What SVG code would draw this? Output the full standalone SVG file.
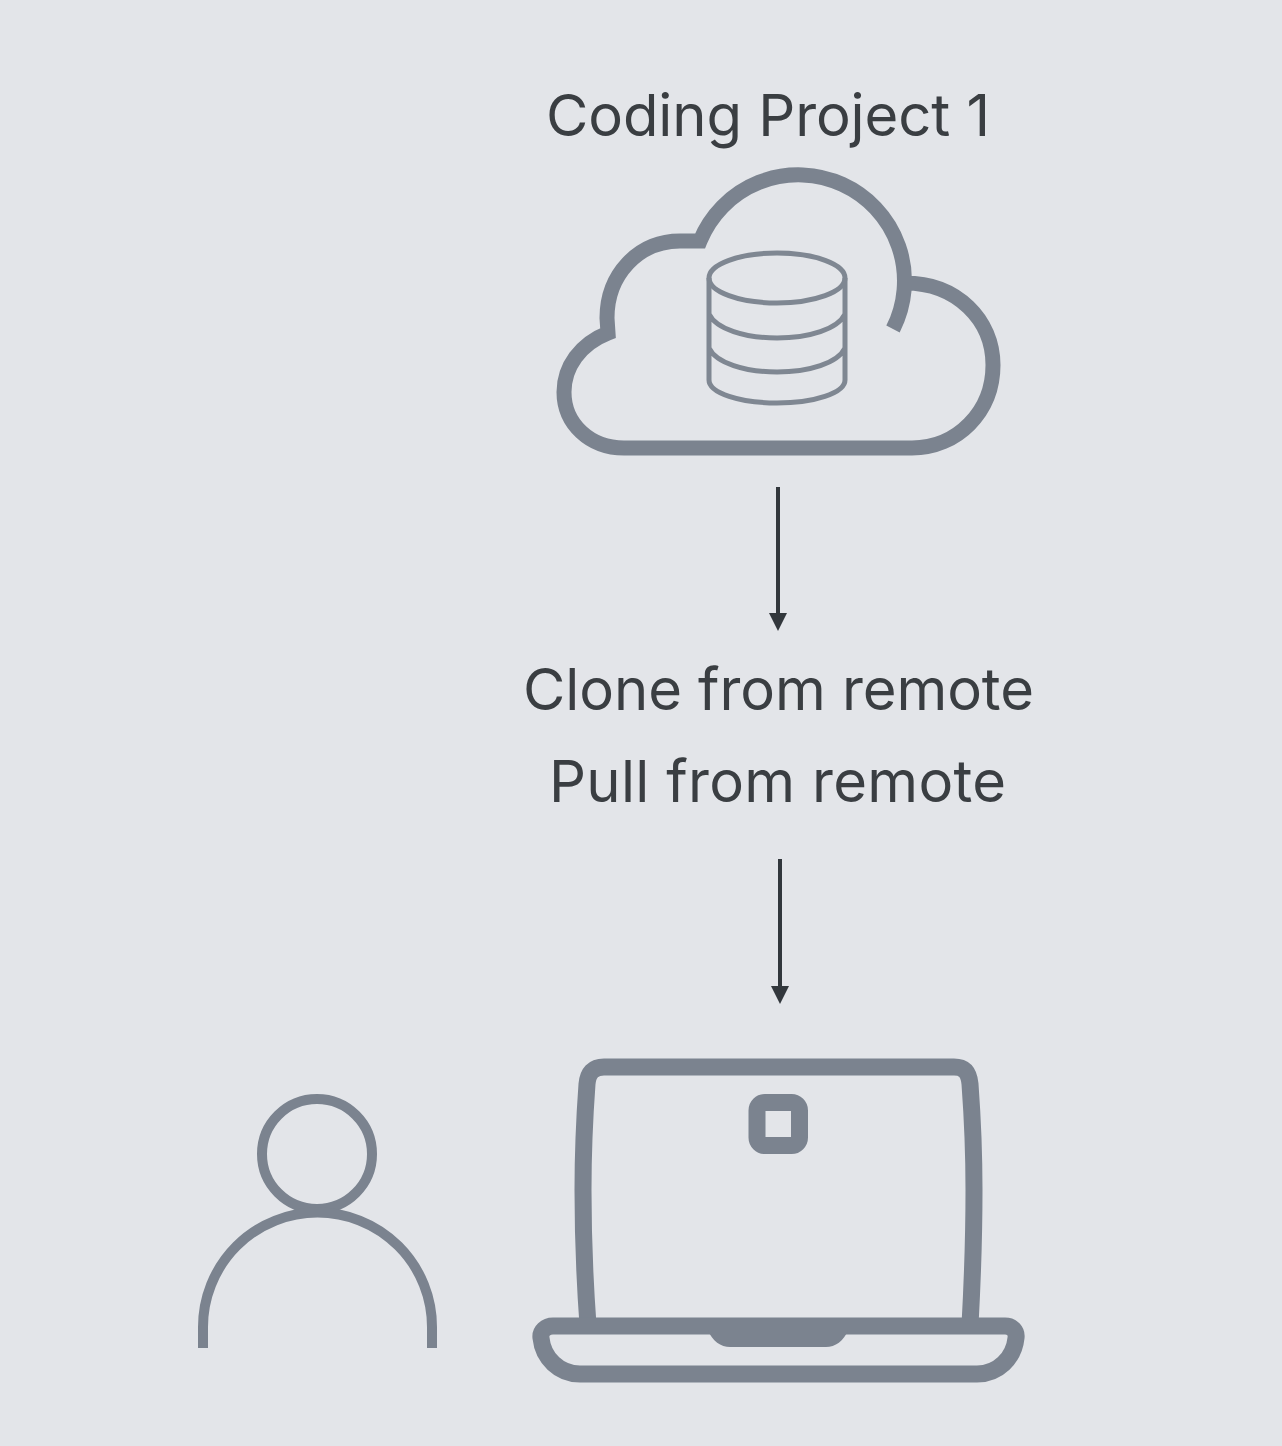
<svg xmlns="http://www.w3.org/2000/svg" width="1282" height="1446" viewBox="0 0 1282 1446">
<style>
.ic{fill:none;stroke:#7b838f;stroke-width:15}
.db{fill:none;stroke:#7f8792;stroke-width:5}
.lb{font-family:"Inter","Liberation Sans",sans-serif;font-size:58px;fill:#3a3e42;text-anchor:middle}
.cn{stroke:#32373c;stroke-width:4;fill:none}
</style>
<defs><marker id="ah" markerUnits="userSpaceOnUse" markerWidth="20" markerHeight="20" refX="0" refY="9" orient="auto"><path d="M0 0L18 9L0 18Z" fill="#32373c"/></marker></defs>
<rect width="1282" height="1446" fill="#e3e5e9"/>
<g id="title"><text class="lb" x="768" y="136" textLength="444">Coding Project 1</text></g>
<g id="cloud">
<path class="ic" d="M893 329A106.150 106.150 0 1 0 700 241C693 241 687 241 680 241C638 241 607 275 607 318L608 333C580 344 564 367 564 392C564 424 590 448 624 448H912C957 448 993 412 993 365C993 320 957 283 905 283"/>
</g>
<g id="database">
<ellipse class="db" cx="777" cy="278" rx="68" ry="25"/>
<path class="db" d="M709 278V380C709 393 740 403 777 403C814 403 845 393 845 380V278M709 314C716 329 745 338 777 338C809 338 838 329 845 314M709 348C716 363 745 372 777 372C809 372 838 363 845 348"/>
</g>
<g id="connectors">
<line class="cn" x1="778" y1="487" x2="778" y2="613" marker-end="url(#ah)"/>
<line class="cn" x1="780" y1="859" x2="780" y2="986" marker-end="url(#ah)"/>
</g>
<g id="labels">
<text class="lb" x="778.500" y="710" textLength="511">Clone from remote</text>
<text class="lb" x="777.500" y="802" textLength="457">Pull from remote</text>
</g>
<g id="person">
<circle cx="317" cy="1154" r="55" fill="none" stroke="#7b838f" stroke-width="10"/>
<path d="M203 1348V1327A114.500 114.500 0 0 1 432 1327V1348" fill="none" stroke="#7b838f" stroke-width="10"/>
</g>
<g id="laptop">
<path class="ic" style="stroke-width:17" d="M588 1325C584 1270 583 1225 583 1190C583 1155 584 1125 587 1084C588 1073 593 1067 604 1067H954C965 1067 969 1073 970 1084C973 1125 974 1155 974 1190C974 1225 973 1270 970 1325"/>
<path class="ic" style="stroke-width:17" d="M553 1326H1005C1012 1326 1017 1331 1016 1338C1014 1358 998 1374 977 1374H580C559 1374 543 1358 541 1338C540 1331 546 1326 553 1326Z"/>
<path d="M708 1330H848C844 1341 835 1347 826 1347H730C721 1347 712 1341 708 1330Z" fill="#7b838f"/>
<rect class="ic" style="stroke-width:17" x="757" y="1102.500" width="42.500" height="43" rx="8"/>
</g>
</svg>
